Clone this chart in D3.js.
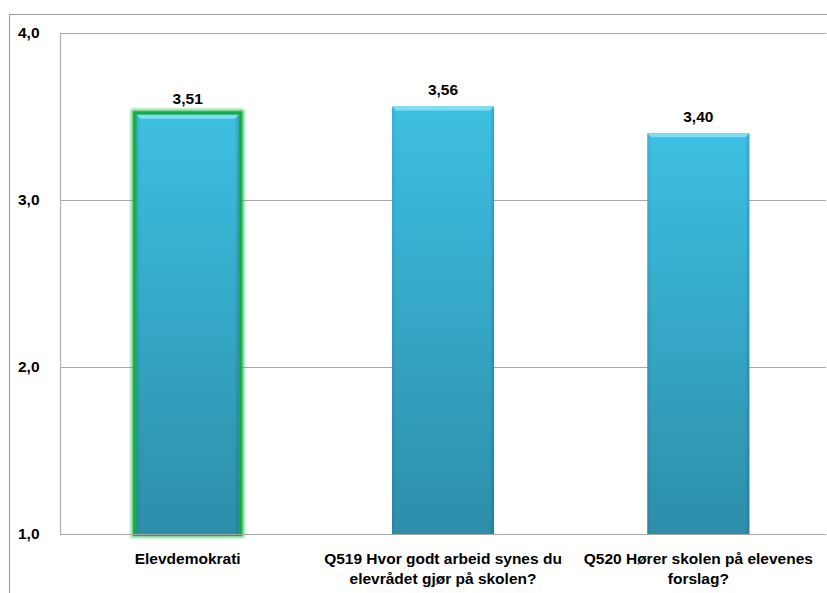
<!DOCTYPE html>
<html>
<head>
<meta charset="utf-8">
<script src="https://cdn.jsdelivr.net/npm/d3@7"></script>
<style>
  html, body { margin: 0; padding: 0; background: #fff; }
  svg { display: block; }
  text { font-family: "Liberation Sans", Arial, sans-serif; font-weight: bold; fill: #000; }
</style>
</head>
<body>
<svg id="chart" width="827" height="593"></svg>
<script>
const categories = [
  ["Elevdemokrati"],
  ["Q519 Hvor godt arbeid synes du", "elevrådet gjør på skolen?"],
  ["Q520 Hører skolen på elevenes", "forslag?"]
];
const values = [3.51, 3.56, 3.40];
const valueLabels = ["3,51", "3,56", "3,40"];
const yTicks = [1, 2, 3, 4];
const yTickLabels = ["1,0", "2,0", "3,0", "4,0"];
const highlighted = [true, false, false];

const W = 827, H = 593;
const plot = { left: 60, right: 826, top: 33, bottom: 534 };
const svg = d3.select("#chart");

const defs = svg.append("defs");
const grad = defs.append("linearGradient").attr("id", "barGrad")
  .attr("x1", 0).attr("y1", 0).attr("x2", 0).attr("y2", 1);
grad.append("stop").attr("offset", "0%").attr("stop-color", "#3dbfe3");
grad.append("stop").attr("offset", "100%").attr("stop-color", "#2d8ea9");
const side = defs.append("linearGradient").attr("id", "sideShade")
  .attr("x1", 0).attr("y1", 0).attr("x2", 1).attr("y2", 0);
side.append("stop").attr("offset", "0%").attr("stop-color", "#000").attr("stop-opacity", 0.08);
side.append("stop").attr("offset", "4%").attr("stop-color", "#000").attr("stop-opacity", 0);
side.append("stop").attr("offset", "96%").attr("stop-color", "#000").attr("stop-opacity", 0);
side.append("stop").attr("offset", "100%").attr("stop-color", "#000").attr("stop-opacity", 0.15);
const glow = defs.append("filter").attr("id", "glow")
  .attr("x", "-20%").attr("y", "-20%").attr("width", "140%").attr("height", "140%");
glow.append("feGaussianBlur").attr("stdDeviation", 1.8);

// outer chart border
svg.append("rect").attr("x", 9.5).attr("y", 14.5).attr("width", W).attr("height", H)
  .attr("fill", "none").attr("stroke", "#9a9a9a").attr("stroke-width", 1);

const x = d3.scaleBand().domain(d3.range(categories.length))
  .range([plot.left, plot.right]).paddingInner(0.6).paddingOuter(0.3);
const y = d3.scaleLinear().domain([1, 4]).range([plot.bottom, plot.top]);

// gridlines
svg.append("g").selectAll("line").data(yTicks.filter(t => t > 1)).join("line")
  .attr("x1", plot.left).attr("x2", plot.right)
  .attr("y1", d => Math.round(y(d)) + 0.5).attr("y2", d => Math.round(y(d)) + 0.5)
  .attr("stroke", "#a6a6a6").attr("stroke-width", 1.2);

// left axis line
svg.append("line").attr("x1", plot.left + 0.5).attr("x2", plot.left + 0.5)
  .attr("y1", plot.top).attr("y2", plot.bottom)
  .attr("stroke", "#b0b0b0").attr("stroke-width", 1.2);

// y tick labels
svg.append("g").selectAll("text").data(yTicks).join("text")
  .attr("x", 18).attr("y", d => y(d)).attr("dy", "0.35em")
  .attr("font-size", 15.5).text((d, i) => yTickLabels[i]);

// bars
const bars = svg.append("g");
values.forEach((v, i) => {
  const bx = x(i), bw = x.bandwidth(), by = y(v), bh = y(1) - y(v);
  if (highlighted[i]) {
    bars.append("rect").attr("x", bx - 2).attr("y", by - 2)
      .attr("width", bw + 4).attr("height", bh + 2)
      .attr("fill", "none").attr("stroke", "#1db54a").attr("stroke-width", 7)
      .attr("opacity", 0.7).attr("filter", "url(#glow)");
    bars.append("rect").attr("x", bx - 1.5).attr("y", by - 1.5)
      .attr("width", bw + 3).attr("height", bh + 1.5)
      .attr("fill", "none").attr("stroke", "#14ad46").attr("stroke-width", 4);
  }
  bars.append("rect").attr("x", bx).attr("y", by).attr("width", bw).attr("height", bh)
    .attr("fill", "url(#barGrad)");
  bars.append("rect").attr("x", bx).attr("y", by).attr("width", bw).attr("height", bh)
    .attr("fill", "url(#sideShade)");
  // top bevel
  bars.append("path")
    .attr("d", `M${bx},${by} L${bx + bw},${by} L${bx + bw - 4},${by + 4} L${bx + 4},${by + 4} Z`)
    .attr("fill", "#7fdcf2");
  bars.append("text").attr("x", bx + bw / 2).attr("y", by - 11)
    .attr("text-anchor", "middle").attr("font-size", 15.5).text(valueLabels[i]);
});

// bottom axis line
svg.append("line").attr("x1", plot.left).attr("x2", plot.right)
  .attr("y1", plot.bottom + 0.5).attr("y2", plot.bottom + 0.5)
  .attr("stroke", "#a6a6a6").attr("stroke-width", 1.2);

// category labels
const cl = svg.append("g");
categories.forEach((lines, i) => {
  const t = cl.append("text").attr("x", x(i) + x.bandwidth() / 2).attr("y", 564)
    .attr("text-anchor", "middle").attr("font-size", 15.5);
  lines.forEach((ln, j) => {
    t.append("tspan").attr("x", x(i) + x.bandwidth() / 2).attr("dy", j === 0 ? 0 : 20).text(ln);
  });
});
</script>
</body>
</html>
